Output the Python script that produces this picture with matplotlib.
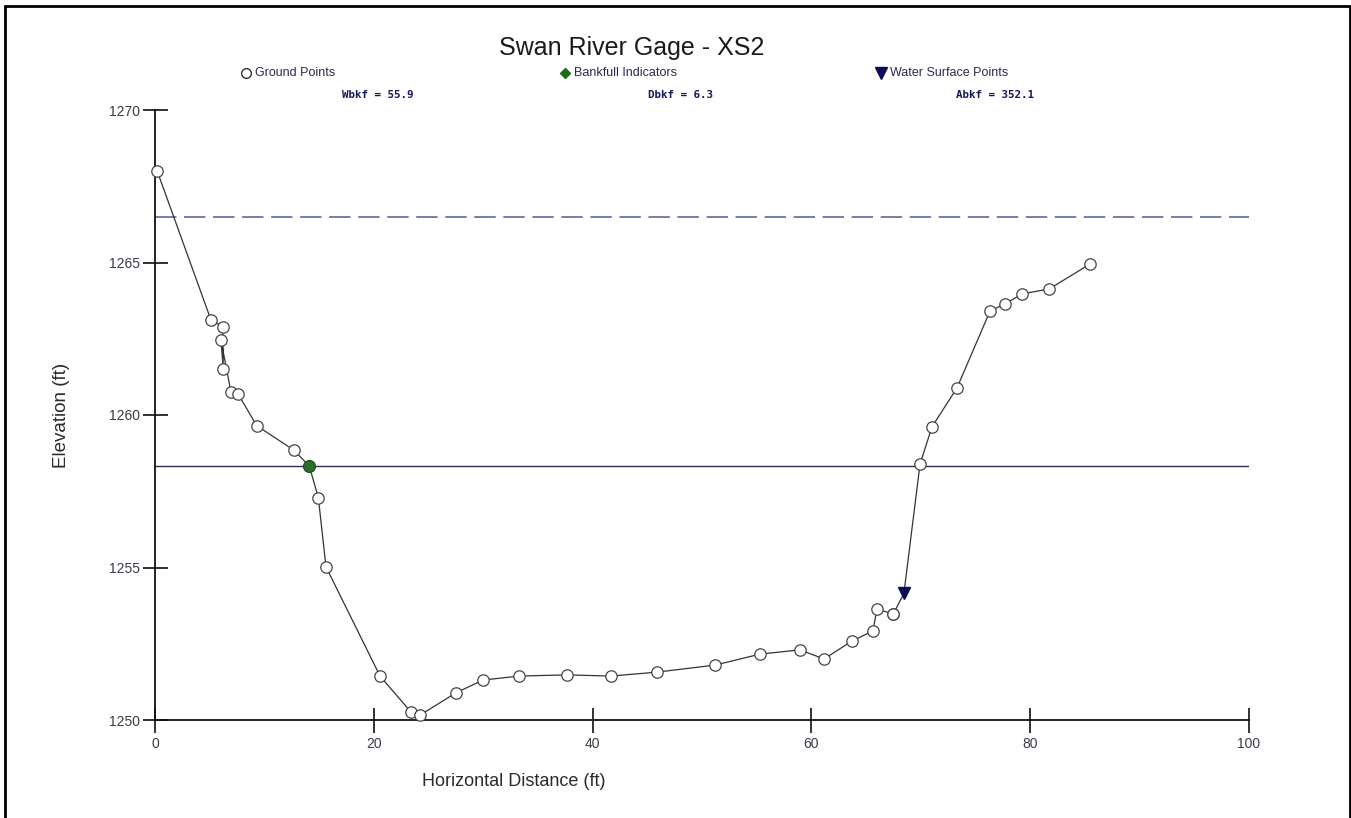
import matplotlib
matplotlib.use("Agg")
import matplotlib.pyplot as plt
from matplotlib.lines import Line2D
from matplotlib.patches import Rectangle

# Surveyed cross-section (station, elevation), in survey order
ground_x = [0.2, 5.12, 6.19, 6.24, 6.03, 6.95, 7.61, 9.30, 12.68, 14.10, 14.93,
            15.63, 20.57, 23.40, 24.22, 27.51, 29.98, 33.27, 37.66, 41.68, 45.89,
            51.19, 55.30, 58.96, 61.15, 63.71, 65.63, 65.99, 67.43, 67.50,
            69.93, 71.02, 73.31, 76.33, 77.70, 79.25, 81.72, 85.47]
ground_z = [1268.0, 1263.11, 1262.90, 1261.51, 1262.46, 1260.74, 1260.68, 1259.65,
            1258.85, 1258.33, 1257.29, 1255.02, 1251.44, 1250.26, 1250.16, 1250.89,
            1251.31, 1251.44, 1251.48, 1251.44, 1251.57, 1251.80, 1252.16, 1252.30,
            1252.00, 1252.59, 1252.92, 1253.64, 1253.48, 1253.48,
            1258.39, 1259.61, 1260.89, 1263.41, 1263.64, 1263.97, 1264.13, 1264.95]

# Bankfull indicator and water surface shot
bankfull_x = [14.10]
bankfull_z = [1258.33]
ws_x = [68.46]
ws_z = [1254.16]
ws_index = 30  # position of the water-surface shot within the survey sequence

bankfull_elev = 1258.33
floodprone_elev = 1266.50

stats_labels = ["Wbkf = 55.9", "Dbkf = 6.3", "Abkf = 352.1"]
legend_labels = ["Ground Points", "Bankfull Indicators", "Water Surface Points"]

x_ticks = [0, 20, 40, 60, 80, 100]
y_ticks = [1250, 1255, 1260, 1265, 1270]

W, H = 1351, 818
fig = plt.figure(figsize=(W / 100, H / 100), dpi=100)


def fx(px):
    return px / W


def fy(py):
    return 1 - py / H


ax = fig.add_axes([fx(155), fy(720), fx(1249) - fx(155), fy(110) - fy(720)])
ax.set_xlim(0, 100)
ax.set_ylim(1250, 1270)
for s in ("top", "right"):
    ax.spines[s].set_visible(False)
for s in ("left", "bottom"):
    ax.spines[s].set_linewidth(1.3)
    ax.spines[s].set_color("#111111")

ax.set_xticks(x_ticks)
ax.set_yticks(y_ticks)
ax.tick_params(direction="inout", length=18, width=1.3, color="#222222",
               labelsize=10, labelcolor="#3a3a48")
ax.tick_params(axis="x", pad=3.5)
ax.tick_params(axis="y", pad=1.5)
for lab in ax.get_xticklabels() + ax.get_yticklabels():
    lab.set_fontfamily("Liberation Sans")

# reference elevations
ax.axhline(bankfull_elev, color="#2c2c58", lw=1.0, zorder=2)
ax.axhline(floodprone_elev, color="#4e5a9a", lw=1.1, dashes=(14, 5), zorder=2)

# profile line runs through the water-surface shot
line_x = ground_x[:ws_index] + ws_x + ground_x[ws_index:]
line_z = ground_z[:ws_index] + ws_z + ground_z[ws_index:]
ax.plot(line_x, line_z, color="#333333", lw=0.9, zorder=3, clip_on=False)
ax.plot(ground_x, ground_z, ls="none", marker="o", ms=8.2, mfc="white",
        mec="#444444", mew=0.9, zorder=4, clip_on=False)
ax.plot(bankfull_x, bankfull_z, ls="none", marker="o", ms=8.5, mfc="#2a6e2a",
        mec="#1f4f1f", mew=0.8, zorder=5)
ax.plot(ws_x, ws_z, ls="none", marker="v", ms=9, mfc="#0c0c5c",
        mec="#0c0c5c", zorder=5)

# title, legend row and summary values
fig.text(fx(632), fy(48), "Swan River Gage - XS2", ha="center", va="center",
         fontsize=18, family="Liberation Sans", color="#1a1a1a")

legend_markers = [
    dict(marker="o", mfc="white", mec="#333333", ms=7, mew=1.0),
    dict(marker="D", mfc="#1f6b1f", mec="#1f6b1f", ms=5.5),
    dict(marker="v", mfc="#0c0c5c", mec="#0c0c5c", ms=8),
]
legend_px = [246, 565, 881]
for px, lab, mk in zip(legend_px, legend_labels, legend_markers):
    fig.add_artist(Line2D([fx(px)], [fy(73)], transform=fig.transFigure,
                          ls="none", **mk))
    fig.text(fx(px + 9), fy(73), lab, ha="left", va="center", fontsize=9,
             family="Liberation Sans", color="#2a2a50")

stats_px = [378, 680, 995]
for px, lab in zip(stats_px, stats_labels):
    fig.text(fx(px), fy(95), lab, ha="center", va="center", fontsize=7.8,
             family="DejaVu Sans Mono", weight="bold", color="#16165a")

fig.text(fx(62), fy(415), "Elevation (ft)", rotation=90, ha="center",
         va="center", fontsize=13.5, family="Liberation Sans", color="#2a2a2a")
fig.text(fx(514), fy(781), "Horizontal Distance (ft)", ha="center",
         va="center", fontsize=13, family="Liberation Sans", color="#2a2a2a")

# outer frame
fig.add_artist(Rectangle((fx(5), fy(830)), fx(1349.5) - fx(5), fy(6) - fy(830),
                         transform=fig.transFigure, fill=False,
                         ec="black", lw=2, clip_on=False))

fig.savefig("out.png", dpi=100, facecolor="white")
